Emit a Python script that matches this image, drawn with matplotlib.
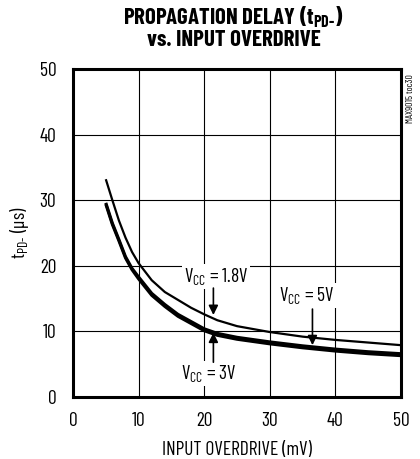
import matplotlib
matplotlib.use('Agg')
from matplotlib import pyplot as plt

plt.rcParams['font.family'] = ['Barlow Condensed', 'DejaVu Sans']
plt.rcParams['mathtext.fontset'] = 'custom'
plt.rcParams['mathtext.rm'] = 'Barlow Condensed'
plt.rcParams['mathtext.bf'] = 'Barlow Condensed:bold'
plt.rcParams['mathtext.default'] = 'regular'

# input overdrive (mV)
overdrive = [5, 6, 7, 8, 9, 10, 12, 14, 16, 18, 20, 22, 25, 30, 35, 40, 45, 50]
# propagation delay tPD- (us)
delay_18v = [33.2, 30.0, 26.9, 24.3, 22.1, 20.4, 17.8, 16.0, 14.8, 13.6, 12.6, 11.7, 10.8, 9.9, 9.2, 8.7, 8.3, 7.9]
delay_3v = [29.4, 26.3, 23.8, 21.2, 19.4, 18.0, 15.5, 13.8, 12.3, 11.2, 10.1, 9.4, 8.8, 8.1, 7.5, 7.0, 6.6, 6.3]
delay_5v = [29.6, 26.5, 24.0, 21.4, 19.6, 18.3, 15.8, 14.1, 12.6, 11.5, 10.4, 9.7, 9.1, 8.4, 7.8, 7.3, 6.9, 6.6]

fig = plt.figure(figsize=(4.2, 4.59), dpi=100)
ax = fig.add_axes([0.1738, 0.1351, 0.781, 0.7146])

ax.plot(overdrive, delay_18v, color='black', linewidth=1.6, solid_capstyle='butt')
ax.plot(overdrive, delay_3v, color='black', linewidth=2.2, solid_capstyle='butt')
ax.plot(overdrive, delay_5v, color='black', linewidth=2.2, solid_capstyle='butt')

ax.set_xlim(0, 50)
ax.set_ylim(0, 50)
ax.set_xticks(range(0, 51, 10))
ax.set_yticks(range(0, 51, 10))
ax.grid(True, color='black', linewidth=0.8)
ax.tick_params(axis='x', length=0, labelsize=14, pad=11)
ax.tick_params(axis='y', length=0, labelsize=14, pad=12)
for s in ax.spines.values():
    s.set_linewidth(2.2)

ax.set_xlabel('INPUT OVERDRIVE (mV)', fontsize=14, labelpad=8)
ax.set_ylabel('t$_{PD‐}$ (µs)', fontsize=14, labelpad=6)

box = dict(facecolor='white', edgecolor='none', pad=1.5)
arrow = dict(arrowstyle='-|>', color='black', linewidth=1.2, mutation_scale=14, shrinkA=0, shrinkB=0)

ax.text(21.8, 18.4, 'V$_{CC}$ = 1.8V', fontsize=14, ha='center', va='center', bbox=box)
ax.annotate('', xy=(21.4, 12.5), xytext=(21.4, 16.6), arrowprops=arrow)

ax.text(20.7, 3.6, 'V$_{CC}$ = 3V', fontsize=14, ha='center', va='center', bbox=box)
ax.annotate('', xy=(21.4, 9.8), xytext=(21.4, 5.3), arrowprops=arrow)

ax.text(35.7, 15.5, 'V$_{CC}$ = 5V', fontsize=14, ha='center', va='center', bbox=box)
ax.annotate('', xy=(36.5, 7.9), xytext=(36.5, 13.4), arrowprops=arrow)

fig.text(0.556, 0.962, 'PROPAGATION DELAY (t$\\mathbf{_{PD‐}}$)', fontsize=16.5, fontweight='bold',
         ha='center', va='center')
fig.text(0.556, 0.913, 'vs. INPUT OVERDRIVE', fontsize=16.5, fontweight='bold',
         ha='center', va='center')
fig.text(0.978, 0.785, 'MAX9015 toc30', fontsize=7, rotation=90, ha='center', va='center')

fig.savefig('out.png', dpi=100)
